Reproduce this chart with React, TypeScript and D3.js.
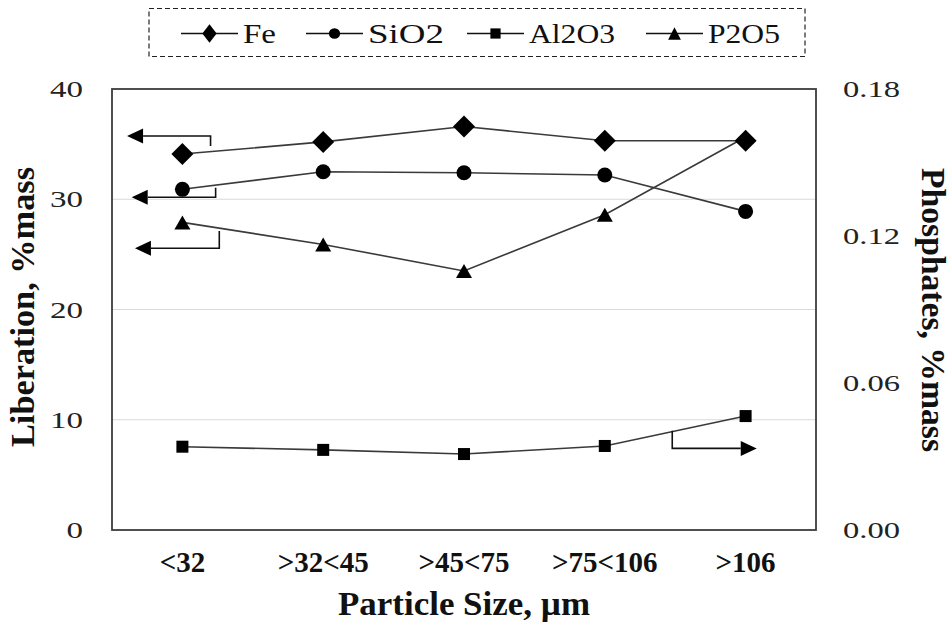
import React from 'react';
import * as d3 from 'd3';

const categories = ['<32', '>32<45', '>45<75', '>75<106', '>106'];
const feValues = [34.1, 35.2, 36.6, 35.3, 35.3];
const sio2Values = [30.9, 32.5, 32.4, 32.2, 28.9];
const al2o3Values = [0.034, 0.0327, 0.031, 0.0343, 0.0465];
const p2o5Values = [27.9, 25.9, 23.5, 28.6, 35.65];
const leftTicks = [0, 10, 20, 30, 40];
const rightTicks = [0, 0.06, 0.12, 0.18];
const gridTicks = [10, 20, 30];

// arrow annotations: [startIndex, startValue, cornerValue, tipIndex]
const feArrow = [0.2, 34.83, 35.74, -0.393];
const sio2Arrow = [0.236, 31.05, 30.18, -0.36];
const p2o5Arrow = [0.262, 27.12, 25.55, -0.337];
const al2o3Arrow = [3.479, 0.0405, 0.0333, 4.079];

const W = 951, H = 623;
const plot = { left: 112, right: 816, top: 89, bottom: 530 };

const x = d3.scaleLinear().domain([-0.5, 4.5]).range([plot.left, plot.right]);
const yL = d3.scaleLinear().domain([0, 40]).range([plot.bottom, plot.top]);
const yR = d3.scaleLinear().domain([0, 0.18]).range([plot.bottom, plot.top]);

const LINE = '#3a3a3a';
const TIMES = "'Liberation Serif', 'Times New Roman', serif";

function marker(kind: string, cx: number, cy: number, sx = 1, sy = 1, key?: any) {
  if (kind === 'diamond') {
    const a = 11 * sx, b = 11 * sy;
    return <path key={key} d={`M${cx},${cy - b}L${cx + a},${cy}L${cx},${cy + b}L${cx - a},${cy}Z`} fill="#000" />;
  }
  if (kind === 'circle') {
    return <ellipse key={key} cx={cx} cy={cy} rx={7.5 * sx} ry={7.5 * sy} fill="#000" />;
  }
  if (kind === 'square') {
    const s = 6 * sx, t = 6 * sy;
    return <rect key={key} x={cx - s} y={cy - t} width={2 * s} height={2 * t} fill="#000" />;
  }
  const w = 8 * sx, h = 7 * sy;
  return <path key={key} d={`M${cx},${cy - h}L${cx + w},${cy + h}L${cx - w},${cy + h}Z`} fill="#000" />;
}

const series = [
  { name: 'Fe', values: feValues, kind: 'diamond', axis: 'L' },
  { name: 'SiO2', values: sio2Values, kind: 'circle', axis: 'L' },
  { name: 'Al2O3', values: al2o3Values, kind: 'square', axis: 'R' },
  { name: 'P2O5', values: p2o5Values, kind: 'triangle', axis: 'L' },
];

const arrows = [
  { a: feArrow, axis: 'L' },
  { a: sio2Arrow, axis: 'L' },
  { a: p2o5Arrow, axis: 'L' },
  { a: al2o3Arrow, axis: 'R' },
];

const legendLineStarts = [181, 306, 467, 646];
const legendTextLengths = [33, 76, 86, 72];
const legendMarkerScale: Record<string, [number, number]> = {
  diamond: [0.65, 0.85],
  circle: [0.75, 0.7],
  square: [0.85, 0.85],
  triangle: [0.8, 0.9],
};

export default function App() {
  const markerOrder = [...series].reverse();
  return (
    <svg width={W} height={H} style={{ position: 'absolute', left: 0, top: 0, background: '#fff' }}>
      <rect x={0} y={0} width={W} height={H} fill="#fff" />
      {/* gridlines */}
      {gridTicks.map((t) => (
        <line key={t} x1={plot.left} x2={plot.right} y1={yL(t)} y2={yL(t)} stroke="#d9d9d9" strokeWidth={1} />
      ))}
      {/* frame */}
      <rect x={plot.left} y={plot.top} width={plot.right - plot.left} height={plot.bottom - plot.top}
        fill="none" stroke="#3c3c3c" strokeWidth={1.8} />

      {/* left ticks */}
      {leftTicks.map((t) => {
        const s = String(t);
        return (
          <text key={t} x={83} y={yL(t) + 8} textAnchor="end" fontFamily={TIMES} fontSize={23}
            fill="#222" textLength={s.length * 16.5} lengthAdjust="spacingAndGlyphs">{s}</text>
        );
      })}
      {/* right ticks */}
      {rightTicks.map((t) => (
        <text key={t} x={843} y={yR(t) + 8} textAnchor="start" fontFamily={TIMES} fontSize={23}
          fill="#222" textLength={57} lengthAdjust="spacingAndGlyphs">{t.toFixed(2)}</text>
      ))}
      {/* x tick labels */}
      {categories.map((c, i) => (
        <text key={c} x={x(i)} y={572} textAnchor="middle" fontFamily={TIMES} fontWeight="bold"
          fontSize={29} fill="#111">{c}</text>
      ))}

      {/* axis titles */}
      <text x={464} y={615} textAnchor="middle" fontFamily={TIMES} fontWeight="bold" fontSize={34}
        fill="#111" textLength={252} lengthAdjust="spacingAndGlyphs">Particle Size, µm</text>
      <text transform="translate(34,307) rotate(-90)" textAnchor="middle" fontFamily={TIMES}
        fontWeight="bold" fontSize={34} fill="#111" textLength={280} lengthAdjust="spacingAndGlyphs">Liberation, %mass</text>
      <text transform="translate(922,310) rotate(90)" textAnchor="middle" fontFamily={TIMES}
        fontWeight="bold" fontSize={34} fill="#111" textLength={284} lengthAdjust="spacingAndGlyphs">Phosphates, %mass</text>

      {/* series lines */}
      {series.map((s) => {
        const y = s.axis === 'L' ? yL : yR;
        const pts = s.values.map((v, i) => [x(i), y(v)] as [number, number]);
        return <path key={s.name} d={d3.line()(pts) || ''} fill="none" stroke={LINE} strokeWidth={1.6} />;
      })}
      {/* markers (Fe drawn last so it sits on top) */}
      {markerOrder.map((s) => {
        const y = s.axis === 'L' ? yL : yR;
        return <g key={s.name + 'm'}>{s.values.map((v, i) => marker(s.kind, x(i), y(v), 1, 1, i))}</g>;
      })}

      {/* arrows */}
      {arrows.map(({ a, axis }, k) => {
        const y = axis === 'L' ? yL : yR;
        const [i0, v0, v1, i1] = a;
        const sx = x(i0), sy = y(v0), cy = y(v1), tx = x(i1);
        const dir = tx < sx ? -1 : 1;
        const headLen = 16, headHalf = 7.5;
        const bx = tx - dir * headLen;
        return (
          <g key={'arr' + k}>
            <path d={`M${sx},${sy}L${sx},${cy}L${bx},${cy}`} fill="none" stroke="#111" strokeWidth={1.6} />
            <path d={`M${tx},${cy}L${bx},${cy - headHalf}L${bx},${cy + headHalf}Z`} fill="#000" />
          </g>
        );
      })}

      {/* legend */}
      <rect x={149} y={8.5} width={656} height={48} fill="none" stroke="#222" strokeWidth={1.2} strokeDasharray="5,3" />
      {series.map((s, k) => {
        const lx = legendLineStarts[k];
        const [msx, msy] = legendMarkerScale[s.kind];
        return (
          <g key={'leg' + s.name}>
            <line x1={lx} x2={lx + 57} y1={33.5} y2={33.5} stroke="#111" strokeWidth={1.6} />
            {marker(s.kind, lx + 28.5, 33.5, msx, msy)}
            <text x={lx + 62} y={42.5} fontFamily={TIMES} fontSize={28} fill="#111"
              textLength={legendTextLengths[k]} lengthAdjust="spacingAndGlyphs">{s.name}</text>
          </g>
        );
      })}
    </svg>
  );
}
